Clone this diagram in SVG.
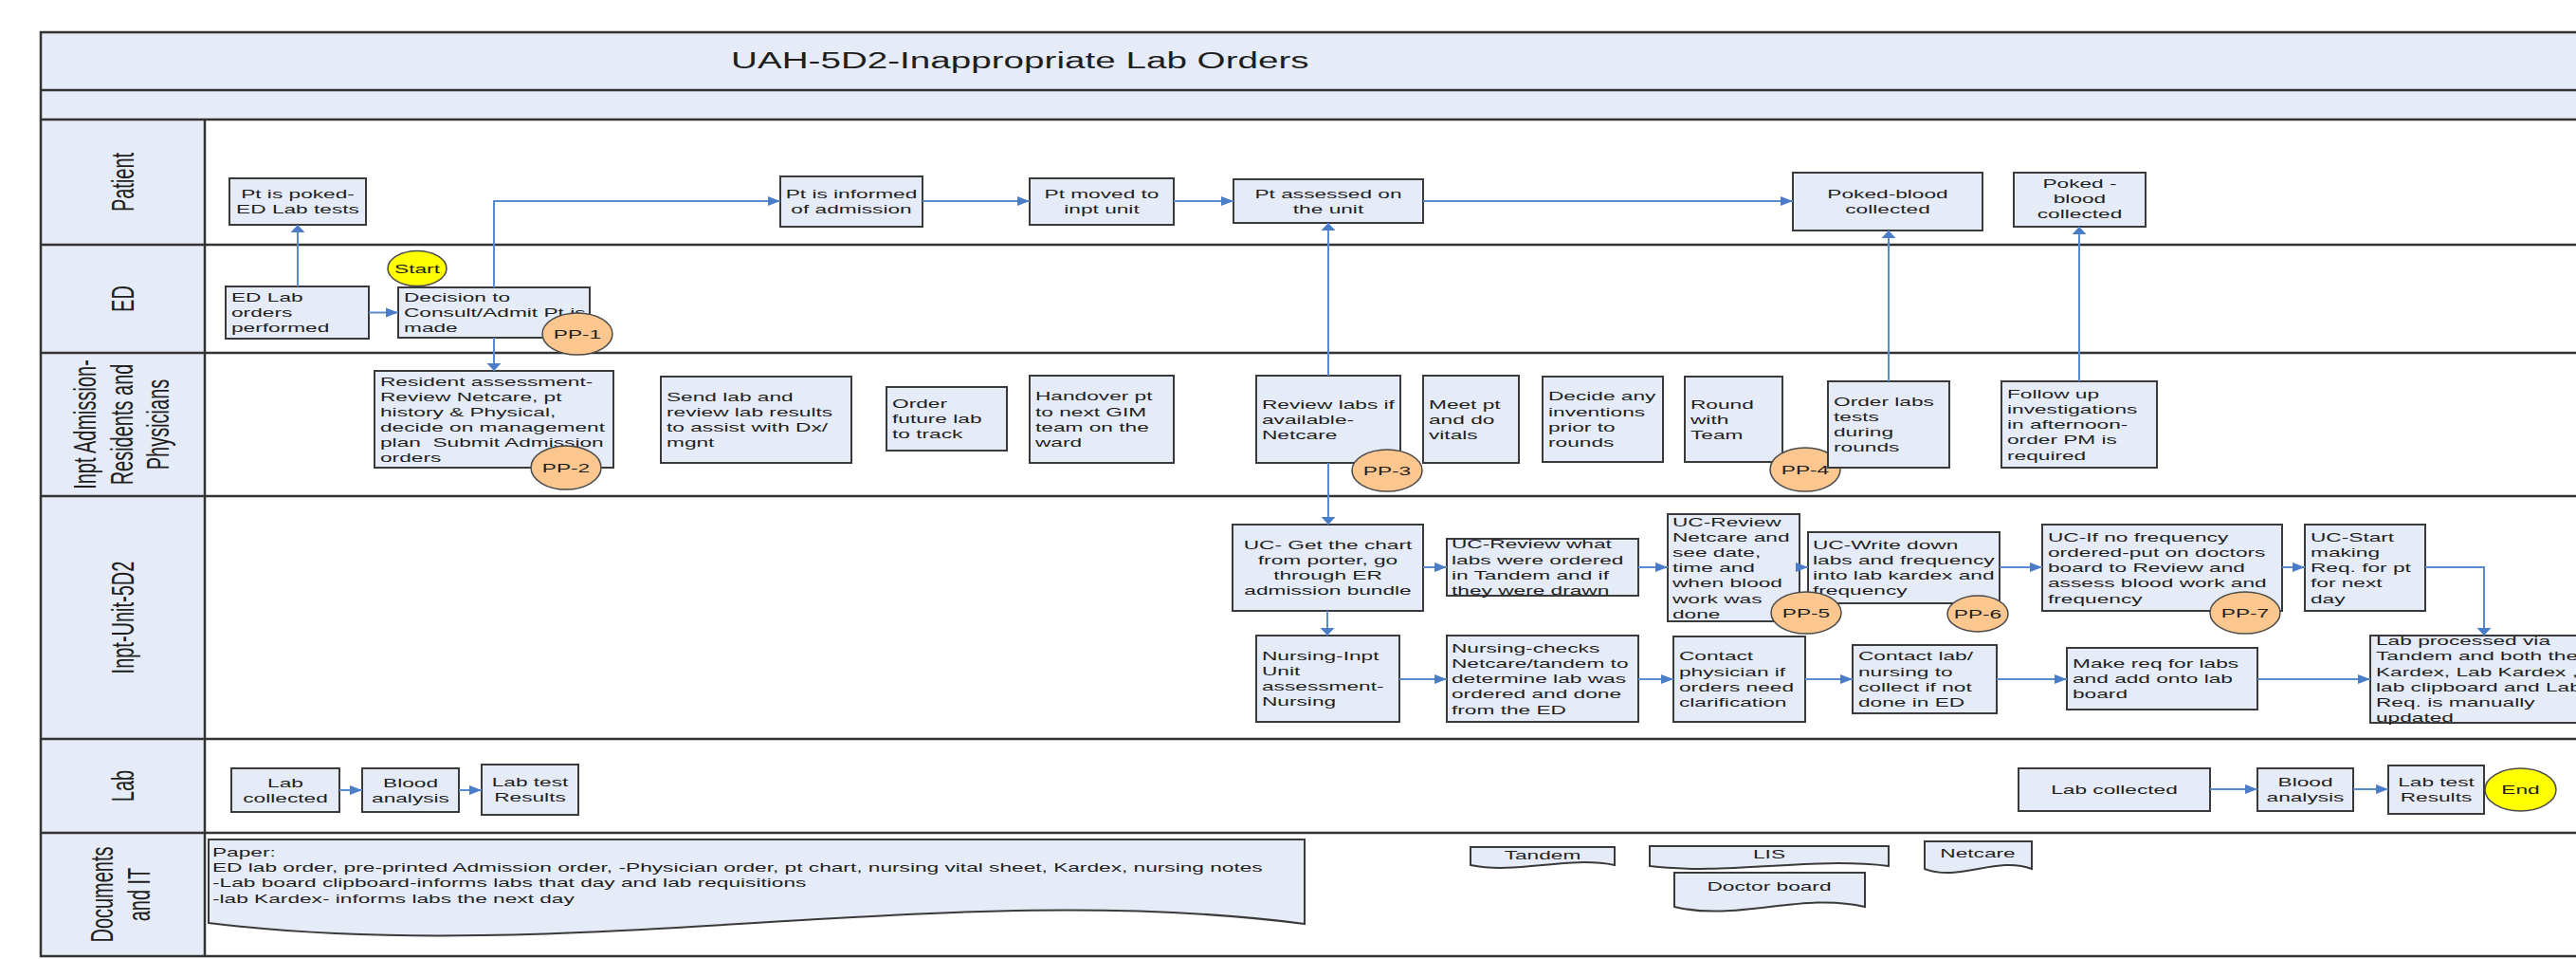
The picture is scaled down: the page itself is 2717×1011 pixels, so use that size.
<svg xmlns="http://www.w3.org/2000/svg" width="2717" height="1011" viewBox="0 0 2717 1011">
<defs>
<style>
.box{fill:#E6ECF7;stroke:#3A3A3A;stroke-width:2}
.doc{fill:#E6ECF7;stroke:#3A3A3A;stroke-width:2}
.pp{fill:#FBC78F;stroke:#4A4A4A;stroke-width:1.5}
.term{fill:#FFFF00;stroke:#4A4A4A;stroke-width:1.5}
.band{fill:#E6ECF7}
.grid{fill:none;stroke:#333333;stroke-width:2.5}
text{font-family:'Liberation Sans',Arial,Helvetica,sans-serif;fill:#1E1E1E}
.t{font-size:13.5px}
.c{text-anchor:middle}
.lane{font-size:20px;text-anchor:middle}
.title{font-size:23px}
#connectors path{fill:none;stroke:#5A8AD0;stroke-width:2}
</style>
<marker id="ah" markerUnits="userSpaceOnUse" markerWidth="14" markerHeight="10" refX="13" refY="5" orient="auto" overflow="visible"><path d="M0,0 L13,5 L0,10 z" fill="#4A7CC7"/></marker>
<marker id="av" markerUnits="userSpaceOnUse" markerWidth="9" markerHeight="15" refX="8" refY="7.5" orient="auto" overflow="visible"><path d="M0,0 L8,7.5 L0,15 z" fill="#4A7CC7"/></marker>
</defs>
<rect x="0" y="0" width="2717" height="1011" fill="#FFFFFF"/>
<g id="lanes">
<rect class="band" x="43" y="34" width="2717" height="92"/>
<rect class="band" x="43" y="126" width="173" height="882"/>
<rect class="grid" x="43" y="34" width="2740" height="974"/>
<path class="grid" d="M43,95 H2760 M43,126 H2760 M43,258 H2760 M43,372 H2760 M43,523 H2760 M43,779 H2760 M43,878 H2760 M216,126 V1008"/>
<text class="title" transform="translate(771,72) scale(1.68,1)">UAH-5D2-Inappropriate Lab Orders</text>
<text class="lane" transform="translate(129,192) scale(1.68,1) rotate(-90)" y="7">Patient</text>
<text class="lane" transform="translate(129,315) scale(1.68,1) rotate(-90)" y="7">ED</text>
<text class="lane" transform="translate(128,447.5) scale(1.68,1) rotate(-90)"><tspan x="0" y="-16">Inpt Admission-</tspan><tspan x="0" dy="23">Residents and</tspan><tspan x="0" dy="23">Physicians</tspan></text>
<text class="lane" transform="translate(129,651) scale(1.68,1) rotate(-90)" y="7">Inpt-Unit-5D2</text>
<text class="lane" transform="translate(129,828.5) scale(1.68,1) rotate(-90)" y="7">Lab</text>
<text class="lane" transform="translate(127,943) scale(1.68,1) rotate(-90)"><tspan x="0" y="-4.75">Documents</tspan><tspan x="0" dy="23.5">and IT</tspan></text>
</g>
<g id="nodes">
<g id="n-pt-poked"><rect class="box" x="242" y="188" width="144" height="49"/><text class="t c" transform="translate(314,209.1) scale(1.68,1)"><tspan x="0">Pt is poked-</tspan><tspan x="0" dy="16.2">ED Lab tests</tspan></text></g>
<g id="n-pt-informed"><rect class="box" x="823" y="186" width="150" height="53"/><text class="t c" transform="translate(898,209.1) scale(1.68,1)"><tspan x="0">Pt is informed</tspan><tspan x="0" dy="16.2">of admission</tspan></text></g>
<g id="n-pt-moved"><rect class="box" x="1086" y="188" width="152" height="49"/><text class="t c" transform="translate(1162,209.1) scale(1.68,1)"><tspan x="0">Pt moved to</tspan><tspan x="0" dy="16.2">inpt unit</tspan></text></g>
<g id="n-pt-assessed"><rect class="box" x="1301" y="189" width="200" height="46"/><text class="t c" transform="translate(1401,208.6) scale(1.68,1)"><tspan x="0">Pt assessed on</tspan><tspan x="0" dy="16.2">the unit</tspan></text></g>
<g id="n-poked-blood-1"><rect class="box" x="1891" y="182" width="200" height="61"/><text class="t c" transform="translate(1991,209.1) scale(1.68,1)"><tspan x="0">Poked-blood</tspan><tspan x="0" dy="16.2">collected</tspan></text></g>
<g id="n-poked-blood-2"><rect class="box" x="2124" y="182" width="139" height="57"/><text class="t c" transform="translate(2193.5,198) scale(1.68,1)"><tspan x="0">Poked -</tspan><tspan x="0" dy="16.2">blood</tspan><tspan x="0" dy="16.2">collected</tspan></text></g>
<g id="n-ed-lab"><rect class="box" x="238" y="302" width="151" height="55"/><text class="t" transform="translate(244,318) scale(1.68,1)"><tspan x="0">ED Lab</tspan><tspan x="0" dy="16.2">orders</tspan><tspan x="0" dy="16.2">performed</tspan></text></g>
<g id="n-decision"><rect class="box" x="420" y="303" width="202" height="53"/><text class="t" transform="translate(426,318) scale(1.68,1)"><tspan x="0">Decision to</tspan><tspan x="0" dy="16.2">Consult/Admit Pt is</tspan><tspan x="0" dy="16.2">made</tspan></text></g>
<g id="n-start"><ellipse class="term" cx="440" cy="283" rx="31" ry="18.5"/><text class="t c" transform="translate(440,287.7) scale(1.68,1)">Start</text></g>
<g id="n-pp1"><ellipse class="pp" cx="609" cy="352" rx="37" ry="22"/><text class="t c" transform="translate(609,356.7) scale(1.68,1)">PP-1</text></g>
<g id="n-resident"><rect class="box" x="395" y="391" width="252" height="102"/><text class="t" transform="translate(401,406.5) scale(1.68,1)"><tspan x="0">Resident assessment-</tspan><tspan x="0" dy="16.2">Review Netcare, pt</tspan><tspan x="0" dy="16.2">history &amp; Physical,</tspan><tspan x="0" dy="16.2">decide on management</tspan><tspan x="0" dy="16.2">plan&#160; Submit Admission</tspan><tspan x="0" dy="16.2">orders</tspan></text></g>
<g id="n-pp2"><ellipse class="pp" cx="597" cy="493" rx="37" ry="23"/><text class="t c" transform="translate(597,497.7) scale(1.68,1)">PP-2</text></g>
<g id="n-send-lab"><rect class="box" x="697" y="397" width="201" height="91"/><text class="t" transform="translate(703,422.9) scale(1.68,1)"><tspan x="0">Send lab and</tspan><tspan x="0" dy="16.2">review lab results</tspan><tspan x="0" dy="16.2">to assist with Dx/</tspan><tspan x="0" dy="16.2">mgnt</tspan></text></g>
<g id="n-order-future"><rect class="box" x="935" y="408" width="127" height="67"/><text class="t" transform="translate(941,430) scale(1.68,1)"><tspan x="0">Order</tspan><tspan x="0" dy="16.2">future lab</tspan><tspan x="0" dy="16.2">to track</tspan></text></g>
<g id="n-handover"><rect class="box" x="1086" y="396" width="152" height="92"/><text class="t" transform="translate(1092,422.4) scale(1.68,1)"><tspan x="0">Handover pt</tspan><tspan x="0" dy="16.2">to next GIM</tspan><tspan x="0" dy="16.2">team on the</tspan><tspan x="0" dy="16.2">ward</tspan></text></g>
<g id="n-review-labs"><rect class="box" x="1325" y="396" width="152" height="92"/><text class="t" transform="translate(1331,430.5) scale(1.68,1)"><tspan x="0">Review labs if</tspan><tspan x="0" dy="16.2">available-</tspan><tspan x="0" dy="16.2">Netcare</tspan></text></g>
<g id="n-meet-pt"><rect class="box" x="1501" y="396" width="101" height="92"/><text class="t" transform="translate(1507,430.5) scale(1.68,1)"><tspan x="0">Meet pt</tspan><tspan x="0" dy="16.2">and do</tspan><tspan x="0" dy="16.2">vitals</tspan></text></g>
<g id="n-pp3"><ellipse class="pp" cx="1463" cy="496" rx="37" ry="22"/><text class="t c" transform="translate(1463,500.7) scale(1.68,1)">PP-3</text></g>
<g id="n-decide"><rect class="box" x="1627" y="397" width="127" height="90"/><text class="t" transform="translate(1633,422.4) scale(1.68,1)"><tspan x="0">Decide any</tspan><tspan x="0" dy="16.2">inventions</tspan><tspan x="0" dy="16.2">prior to</tspan><tspan x="0" dy="16.2">rounds</tspan></text></g>
<g id="n-round"><rect class="box" x="1777" y="397" width="103" height="90"/><text class="t" transform="translate(1783,430.5) scale(1.68,1)"><tspan x="0">Round</tspan><tspan x="0" dy="16.2">with</tspan><tspan x="0" dy="16.2">Team</tspan></text></g>
<g id="n-pp4"><ellipse class="pp" cx="1904" cy="495" rx="37" ry="23"/><text class="t c" transform="translate(1904,499.7) scale(1.68,1)">PP-4</text></g>
<g id="n-order-labs"><rect class="box" x="1928" y="402" width="128" height="91"/><text class="t" transform="translate(1934,427.9) scale(1.68,1)"><tspan x="0">Order labs</tspan><tspan x="0" dy="16.2">tests</tspan><tspan x="0" dy="16.2">during</tspan><tspan x="0" dy="16.2">rounds</tspan></text></g>
<g id="n-follow-up"><rect class="box" x="2111" y="402" width="164" height="91"/><text class="t" transform="translate(2117,419.8) scale(1.68,1)"><tspan x="0">Follow up</tspan><tspan x="0" dy="16.2">investigations</tspan><tspan x="0" dy="16.2">in afternoon-</tspan><tspan x="0" dy="16.2">order PM is</tspan><tspan x="0" dy="16.2">required</tspan></text></g>
<g id="n-uc-chart"><rect class="box" x="1300" y="553" width="201" height="91"/><text class="t c" transform="translate(1400.5,578.9) scale(1.68,1)"><tspan x="0">UC- Get the chart</tspan><tspan x="0" dy="16.2">from porter, go</tspan><tspan x="0" dy="16.2">through ER</tspan><tspan x="0" dy="16.2">admission bundle</tspan></text></g>
<g id="n-uc-review-what"><rect class="box" x="1526" y="568" width="202" height="60"/><text class="t" transform="translate(1531,578.4) scale(1.68,1)"><tspan x="0">UC-Review what</tspan><tspan x="0" dy="16.2">labs were ordered</tspan><tspan x="0" dy="16.2">in Tandem and if</tspan><tspan x="0" dy="16.2">they were drawn</tspan></text></g>
<g id="n-uc-review-netcare"><rect class="box" x="1759" y="542" width="139" height="113"/><text class="t" transform="translate(1764,554.6) scale(1.68,1)"><tspan x="0">UC-Review</tspan><tspan x="0" dy="16.2">Netcare and</tspan><tspan x="0" dy="16.2">see date,</tspan><tspan x="0" dy="16.2">time and</tspan><tspan x="0" dy="16.2">when blood</tspan><tspan x="0" dy="16.2">work was</tspan><tspan x="0" dy="16.2">done</tspan></text></g>
<g id="n-uc-write"><rect class="box" x="1907" y="561" width="202" height="75"/><text class="t" transform="translate(1912,578.9) scale(1.68,1)"><tspan x="0">UC-Write down</tspan><tspan x="0" dy="16.2">labs and frequency</tspan><tspan x="0" dy="16.2">into lab kardex and</tspan><tspan x="0" dy="16.2">frequency</tspan></text></g>
<g id="n-pp5"><ellipse class="pp" cx="1905" cy="646" rx="37" ry="22"/><text class="t c" transform="translate(1905,650.7) scale(1.68,1)">PP-5</text></g>
<g id="n-pp6"><ellipse class="pp" cx="2086" cy="647" rx="32" ry="19"/><text class="t c" transform="translate(2086,651.7) scale(1.68,1)">PP-6</text></g>
<g id="n-uc-ifno"><rect class="box" x="2154" y="553" width="253" height="91"/><text class="t" transform="translate(2160,570.8) scale(1.68,1)"><tspan x="0">UC-If no frequency</tspan><tspan x="0" dy="16.2">ordered-put on doctors</tspan><tspan x="0" dy="16.2">board to Review and</tspan><tspan x="0" dy="16.2">assess blood work and</tspan><tspan x="0" dy="16.2">frequency</tspan></text></g>
<g id="n-pp7"><ellipse class="pp" cx="2368" cy="646" rx="37" ry="22"/><text class="t c" transform="translate(2368,650.7) scale(1.68,1)">PP-7</text></g>
<g id="n-uc-start"><rect class="box" x="2431" y="553" width="127" height="91"/><text class="t" transform="translate(2437,570.8) scale(1.68,1)"><tspan x="0">UC-Start</tspan><tspan x="0" dy="16.2">making</tspan><tspan x="0" dy="16.2">Req. for pt</tspan><tspan x="0" dy="16.2">for next</tspan><tspan x="0" dy="16.2">day</tspan></text></g>
<g id="n-nursing-inpt"><rect class="box" x="1325" y="670" width="151" height="91"/><text class="t" transform="translate(1331,695.9) scale(1.68,1)"><tspan x="0">Nursing-Inpt</tspan><tspan x="0" dy="16.2">Unit</tspan><tspan x="0" dy="16.2">assessment-</tspan><tspan x="0" dy="16.2">Nursing</tspan></text></g>
<g id="n-nursing-checks"><rect class="box" x="1526" y="670" width="202" height="91"/><text class="t" transform="translate(1531,687.8) scale(1.68,1)"><tspan x="0">Nursing-checks</tspan><tspan x="0" dy="16.2">Netcare/tandem to</tspan><tspan x="0" dy="16.2">determine lab was</tspan><tspan x="0" dy="16.2">ordered and done</tspan><tspan x="0" dy="16.2">from the ED</tspan></text></g>
<g id="n-contact-phys"><rect class="box" x="1765" y="671" width="139" height="90"/><text class="t" transform="translate(1771,696.4) scale(1.68,1)"><tspan x="0">Contact</tspan><tspan x="0" dy="16.2">physician if</tspan><tspan x="0" dy="16.2">orders need</tspan><tspan x="0" dy="16.2">clarification</tspan></text></g>
<g id="n-contact-lab"><rect class="box" x="1954" y="680" width="152" height="72"/><text class="t" transform="translate(1960,696.4) scale(1.68,1)"><tspan x="0">Contact lab/</tspan><tspan x="0" dy="16.2">nursing to</tspan><tspan x="0" dy="16.2">collect if not</tspan><tspan x="0" dy="16.2">done in ED</tspan></text></g>
<g id="n-make-req"><rect class="box" x="2180" y="683" width="201" height="65"/><text class="t" transform="translate(2186,704) scale(1.68,1)"><tspan x="0">Make req for labs</tspan><tspan x="0" dy="16.2">and add onto lab</tspan><tspan x="0" dy="16.2">board</tspan></text></g>
<g id="n-lab-processed"><rect class="box" x="2500" y="670" width="260" height="92"/><text class="t" transform="translate(2506,680.2) scale(1.68,1)"><tspan x="0">Lab processed via</tspan><tspan x="0" dy="16.2">Tandem and both the</tspan><tspan x="0" dy="16.2">Kardex, Lab Kardex ,</tspan><tspan x="0" dy="16.2">lab clipboard and Lab</tspan><tspan x="0" dy="16.2">Req. is manually</tspan><tspan x="0" dy="16.2">updated</tspan></text></g>
<g id="n-lab-collected-1"><rect class="box" x="244" y="810" width="114" height="46"/><text class="t c" transform="translate(301,829.6) scale(1.68,1)"><tspan x="0">Lab</tspan><tspan x="0" dy="16.2">collected</tspan></text></g>
<g id="n-blood-1"><rect class="box" x="382" y="810" width="102" height="46"/><text class="t c" transform="translate(433,829.6) scale(1.68,1)"><tspan x="0">Blood</tspan><tspan x="0" dy="16.2">analysis</tspan></text></g>
<g id="n-results-1"><rect class="box" x="508" y="806" width="102" height="53"/><text class="t c" transform="translate(559,829.1) scale(1.68,1)"><tspan x="0">Lab test</tspan><tspan x="0" dy="16.2">Results</tspan></text></g>
<g id="n-lab-collected-2"><rect class="box" x="2129" y="810" width="202" height="45"/><text class="t c" transform="translate(2230,837.2) scale(1.68,1)">Lab collected</text></g>
<g id="n-blood-2"><rect class="box" x="2381" y="810" width="101" height="45"/><text class="t c" transform="translate(2431.5,829.1) scale(1.68,1)"><tspan x="0">Blood</tspan><tspan x="0" dy="16.2">analysis</tspan></text></g>
<g id="n-results-2"><rect class="box" x="2519" y="807" width="101" height="51"/><text class="t c" transform="translate(2569.5,829.1) scale(1.68,1)"><tspan x="0">Lab test</tspan><tspan x="0" dy="16.2">Results</tspan></text></g>
<g id="n-end"><ellipse class="term" cx="2658.5" cy="832.5" rx="37.5" ry="22.5"/><text class="t c" transform="translate(2658.5,837.2) scale(1.68,1)">End</text></g>
<g id="n-paper"><path class="doc" d="M220,885 H1376 V974 C1000,925 600,1020 220,973 Z"/><text class="t" transform="translate(224,903) scale(1.68,1)"><tspan x="0">Paper:</tspan><tspan x="0" dy="16.2">ED lab order, pre-printed Admission order, -Physician order, pt chart, nursing vital sheet, Kardex, nursing notes</tspan><tspan x="0" dy="16.2">-Lab board clipboard-informs labs that day and lab requisitions</tspan><tspan x="0" dy="16.2">-lab Kardex- informs labs the next day</tspan></text></g>
<g id="n-tandem"><path class="doc" d="M1551,893 H1703 V912 C1653,902 1601,922 1551,912 Z"/><text class="t c" transform="translate(1627,905.7) scale(1.68,1)">Tandem</text></g>
<g id="n-lis"><path class="doc" d="M1740,892 H1992 V913 C1909,903 1823,923 1740,913 Z"/><text class="t c" transform="translate(1866,904.7) scale(1.68,1)">LIS</text></g>
<g id="n-doctor-board"><path class="doc" d="M1766,920 H1967 V956 C1901,940 1832,972 1766,956 Z"/><text class="t c" transform="translate(1866,938.7) scale(1.68,1)">Doctor board</text></g>
<g id="n-netcare"><path class="doc" d="M2030,887 H2143 V916 C2106,902 2067,930 2030,916 Z"/><text class="t c" transform="translate(2086,903.7) scale(1.68,1)">Netcare</text></g>
</g>
<g id="connectors">
<path d="M314,302 V237" marker-end="url(#av)"/>
<path d="M389,329.5 H420" marker-end="url(#ah)"/>
<path d="M521,303 V212 H823" marker-end="url(#ah)"/>
<path d="M521,356 V391" marker-end="url(#av)"/>
<path d="M973,212 H1086" marker-end="url(#ah)"/>
<path d="M1238,212 H1301" marker-end="url(#ah)"/>
<path d="M1501,212 H1891" marker-end="url(#ah)"/>
<path d="M1401,396 V235" marker-end="url(#av)"/>
<path d="M1992,402 V243" marker-end="url(#av)"/>
<path d="M2193,402 V239" marker-end="url(#av)"/>
<path d="M1401,488 V553" marker-end="url(#av)"/>
<path d="M1400,644 V670" marker-end="url(#av)"/>
<path d="M1501,598 H1526" marker-end="url(#ah)"/>
<path d="M1728,598 H1759" marker-end="url(#ah)"/>
<path d="M1896,598 H1907" marker-end="url(#ah)"/>
<path d="M2109,598 H2154" marker-end="url(#ah)"/>
<path d="M2407,598 H2431" marker-end="url(#ah)"/>
<path d="M2558,598 H2620 V670" marker-end="url(#av)"/>
<path d="M1476,716 H1526" marker-end="url(#ah)"/>
<path d="M1728,716 H1765" marker-end="url(#ah)"/>
<path d="M1904,716 H1954" marker-end="url(#ah)"/>
<path d="M2106,716 H2180" marker-end="url(#ah)"/>
<path d="M2381,716 H2500" marker-end="url(#ah)"/>
<path d="M358,833 H382" marker-end="url(#ah)"/>
<path d="M484,833 H508" marker-end="url(#ah)"/>
<path d="M2331,832 H2381" marker-end="url(#ah)"/>
<path d="M2482,832 H2519" marker-end="url(#ah)"/>
</g>
</svg>
